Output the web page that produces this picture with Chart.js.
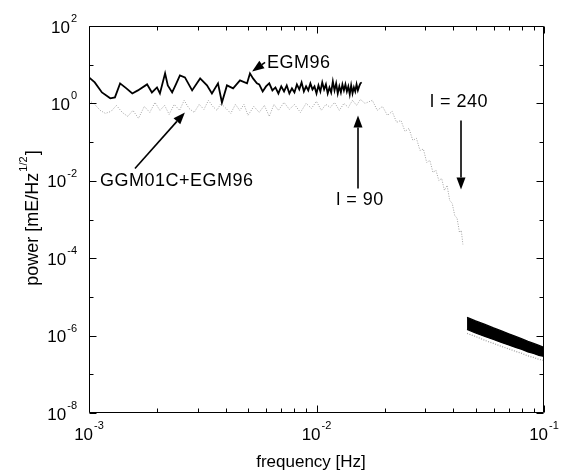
<!DOCTYPE html>
<html><head><meta charset="utf-8">
<script src="https://cdn.jsdelivr.net/npm/chart.js@4/dist/chart.umd.min.js"></script>
<style>html,body{margin:0;padding:0;background:#fff}canvas{display:block}</style>
</head><body>
<canvas id="c" width="561" height="472"></canvas>
<script>
// ---- data ----
const egmFreqLow = [0.00100,0.00106,0.00114,0.00124,0.00130,0.00137,0.00146,0.00155,0.00164,0.00180,0.00189,0.00199,0.00205,0.00216,0.00222,0.00232,0.00241,0.00251,0.00264,0.00284,0.00308,0.00330,0.00347,0.00369,0.00384,0.00404,0.00430,0.00461,0.00495,0.00510,0.00526,0.00547,
 0.0056,0.0058,0.0060,0.0062,0.0064,0.0066,0.0068,0.0070,0.0072,0.0074,0.0076,0.0078,0.0080,0.0082,0.0084,0.0086,0.0088,0.0090,0.0092,0.0094,0.0096,0.0098,0.0100,0.0102,0.0104,0.0106,0.0108,0.0110,0.0112,0.0114,0.0116,0.0118,0.0120,0.0122,0.0124,0.0126,0.0128,0.0130,0.0132,0.0134,0.0136,0.0138,0.0140,0.0142,0.0144,0.0146,0.0148,0.0150,0.0152,0.0154,0.0156,0.0158];
const egmPowerLow = [4.70,3.49,1.92,1.35,1.43,3.29,2.44,1.81,2.17,3.10,1.92,2.59,1.81,5.96,2.92,1.92,3.10,5.29,4.70,2.17,4.43,2.92,1.81,3.29,1.06,2.92,2.44,3.93,3.29,5.96,4.43,3.29,
 3.10,2.04,2.75,3.29,2.17,2.59,1.81,2.75,2.04,2.92,1.81,2.44,1.92,3.10,2.30,3.49,2.04,2.75,2.17,3.29,2.30,2.75,1.81,2.92,2.04,3.49,2.30,3.10,1.81,2.59,1.92,3.70,2.17,3.29,1.81,2.75,1.92,3.10,2.17,3.10,2.04,2.75,1.71,2.92,1.81,2.59,2.04,3.10,2.17,2.75,3.29,3.49];

const ggmFreqLow = [0.00100,0.00106,0.00112,0.00118,0.00125,0.00132,0.00140,0.00148,0.00156,0.00165,0.00175,0.00185,0.00195,0.00205,0.00215,0.00225,0.00237,0.00250,0.00262,0.00275,0.00290,0.00305,0.00320,0.00335,0.00350,0.00365,0.00380,0.00400,0.00420,0.00440,0.00460,0.00480,0.00500,0.00530,0.00560,0.00590,0.00620,0.00650,0.00680,0.00720,0.00760,0.00800,0.00850,0.00900,0.00950,0.01000,0.01050,0.01100,0.01150,0.01200,0.01260,0.01320,0.01380,0.01440,0.01500,0.01560,0.01633,
 0.0176,0.0185,0.0195,0.0205,0.0215,0.0225,0.0235,0.0245,0.0255,0.0265,0.0275,0.0285,0.0295,0.0305,0.0315,0.0325,0.0335,0.0345,0.0355,0.0365,0.0375,0.0385,0.0395,0.0405,0.0415,0.0425,0.0433,0.0440];
const ggmPowerLow = [1.20,0.942,0.660,0.552,0.621,0.888,0.585,0.461,0.660,0.410,0.837,0.585,1.06,0.660,0.888,0.520,0.942,0.660,1.20,0.743,0.585,0.942,0.700,1.20,0.837,0.660,1.00,0.743,0.552,0.942,0.660,0.942,0.490,0.837,0.585,0.888,0.461,0.942,0.660,1.06,0.700,0.942,0.585,1.00,0.743,1.13,0.660,0.942,0.788,1.06,0.660,1.00,0.788,1.20,0.888,1.27,1.00,
 1.20,0.660,0.837,0.490,0.621,0.323,0.364,0.189,0.226,0.111,0.125,0.0610,0.0660,0.0299,0.0337,0.0165,0.0186,0.0102,0.0115,0.00565,0.00760,0.00312,0.00261,0.00128,0.00107,0.000464,0.000523,0.000227];

const bandFreq = [0.0459,0.050,0.055,0.060,0.065,0.070,0.075,0.080,0.085,0.090,0.095,0.100];
const egmBandUpper = [2.95e-6,2.40e-6,1.95e-6,1.58e-6,1.32e-6,1.11e-6,9.53e-7,8.22e-7,7.08e-7,6.28e-7,5.58e-7,4.95e-7];
const egmBandLower = [1.45e-6,1.17e-6,9.53e-7,7.98e-7,6.68e-7,5.75e-7,4.95e-7,4.40e-7,3.79e-7,3.47e-7,3.08e-7,2.90e-7];
const ggmBandPower = [1.14e-6,9.53e-7,7.52e-7,6.28e-7,5.26e-7,4.53e-7,3.91e-7,3.47e-7,2.99e-7,2.73e-7,2.43e-7,2.29e-7];

const xTickExponents = [-3,-2,-1];
const yTickExponents = [2,0,-2,-4,-6,-8];
const xTitle = 'frequency [Hz]';
const yTitleMain = 'power [mE/Hz';
const yTitleSup = '1/2';
const yTitleEnd = ']';

// annotations: text anchor and arrow (tail -> head) in data coordinates
const notes = [
  {text:'EGM96', tx:0.00606, ty:10.8, align:'left', tail:[0.00594,11.5], head:[0.00521,6.71]},
  {text:'GGM01C+EGM96', tx:0.001118, ty:0.00965, align:'left', tail:[0.001592,0.0209], head:[0.00264,0.585]},
  {text:'l = 90', tx:0.01553, ty:0.00312, align:'center', tail:[0.01522,0.00637], head:[0.01522,0.490]},
  {text:'l = 240', tx:0.04230, ty:1.06, align:'center', tail:[0.04317,0.364], head:[0.04317,0.0060]}
];

const pts = (xs, ys) => xs.map((x,i)=>({x, y:ys[i]}));
const FONT = '"Liberation Sans", Arial, Helvetica, sans-serif';

const axesPlugin = {
  id:'matlabAxes',
  afterDraw(chart){
    const {ctx, chartArea:a, scales:{x, y}} = chart;
    ctx.save();
    ctx.strokeStyle = '#000'; ctx.fillStyle = '#000'; ctx.lineWidth = 1;
    const L = Math.round(a.left)+0.5, R = Math.round(a.right)-0.5, T = Math.round(a.top)+0.5, B = Math.round(a.bottom)-0.5;
    ctx.beginPath(); ctx.rect(L, T, R-L, B-T); ctx.stroke();
    ctx.beginPath();
    for (let e=-3; e<=-1; e++){
      for (let m=1; m<=9; m++){
        const v = m*Math.pow(10,e); if (v>0.1000001) break;
        const px = Math.round(x.getPixelForValue(v))+0.5;
        const len = m===1 ? 7 : 4;
        ctx.moveTo(px, B); ctx.lineTo(px, B-len);
        ctx.moveTo(px, T); ctx.lineTo(px, T+len);
      }
    }
    for (let e=-8; e<=2; e++){
      const py = Math.round(y.getPixelForValue(Math.pow(10,e)))+0.5;
      const len = (e%2===0) ? 7 : 4;
      ctx.moveTo(L, py); ctx.lineTo(L+len, py);
      ctx.moveTo(R, py); ctx.lineTo(R-len, py);
    }
    ctx.stroke();
    const baseFont = '17px '+FONT, supFont = '11px '+FONT;
    const drawPow = (e, cx, cy, mode) => {
      ctx.font = baseFont; const wb = ctx.measureText('10').width;
      ctx.font = supFont; const es = String(e); const ws = ctx.measureText(es).width;
      const w = wb + ws + 1;
      let x0 = mode==='center' ? cx - w/2 : cx - w;
      ctx.textBaseline = 'middle'; ctx.textAlign = 'left';
      ctx.font = baseFont; ctx.fillText('10', x0, cy);
      ctx.font = supFont; ctx.fillText(es, x0+wb+1, cy-9);
    };
    xTickExponents.forEach(e => drawPow(e, x.getPixelForValue(Math.pow(10,e)), a.bottom+22, 'center'));
    yTickExponents.forEach(e => drawPow(e, a.left-12, y.getPixelForValue(Math.pow(10,e))+2, 'right'));
    ctx.font = '17px '+FONT; ctx.textAlign='center'; ctx.textBaseline='middle';
    ctx.fillText(xTitle, 311, 462);
    ctx.save();
    ctx.translate(33, 218); ctx.rotate(-Math.PI/2);
    ctx.font = '18px '+FONT; const w1 = ctx.measureText(yTitleMain).width;
    ctx.font = '11px '+FONT; const w2 = ctx.measureText(yTitleSup).width;
    ctx.font = '18px '+FONT; const w3 = ctx.measureText(yTitleEnd).width;
    const tw = w1+w2+w3+2; let sx = -tw/2;
    ctx.textAlign='left'; ctx.textBaseline='middle';
    ctx.font = '18px '+FONT; ctx.fillText(yTitleMain, sx, 0);
    ctx.font = '11px '+FONT; ctx.fillText(yTitleSup, sx+w1+1, -9);
    ctx.font = '18px '+FONT; ctx.fillText(yTitleEnd, sx+w1+w2+2, 0);
    ctx.restore();
    notes.forEach(n => {
      const tx = x.getPixelForValue(n.tx), ty = y.getPixelForValue(n.ty);
      ctx.font = '18px '+FONT; ctx.textAlign = n.align; ctx.textBaseline='middle';
      if ('letterSpacing' in ctx) ctx.letterSpacing = '0.5px';
      ctx.fillText(n.text, tx, ty);
      if ('letterSpacing' in ctx) ctx.letterSpacing = '0px';
      const x1 = x.getPixelForValue(n.tail[0]), y1 = y.getPixelForValue(n.tail[1]);
      const x2 = x.getPixelForValue(n.head[0]), y2 = y.getPixelForValue(n.head[1]);
      const ang = Math.atan2(y2-y1, x2-x1), hl = 12, hw = 4.5;
      const bx = x2 - hl*Math.cos(ang), by = y2 - hl*Math.sin(ang);
      ctx.lineWidth = 1.6;
      ctx.beginPath(); ctx.moveTo(x1,y1); ctx.lineTo(bx,by); ctx.stroke();
      ctx.beginPath(); ctx.moveTo(x2,y2);
      ctx.lineTo(bx + hw*Math.sin(ang), by - hw*Math.cos(ang));
      ctx.lineTo(bx - hw*Math.sin(ang), by + hw*Math.cos(ang));
      ctx.closePath(); ctx.fill();
    });
    ctx.restore();
  }
};

new Chart(document.getElementById('c'), {
  type:'line',
  data:{ datasets:[
    {label:'EGM96', data:pts(egmFreqLow, egmPowerLow), borderColor:'#000', borderWidth:1.8, pointRadius:0, tension:0, order:0},
    {label:'EGM96 band upper', data:pts(bandFreq, egmBandUpper), borderColor:'#000', borderWidth:1.2, backgroundColor:'#000', fill:'+1', pointRadius:0, tension:0, order:0},
    {label:'EGM96 band lower', data:pts(bandFreq, egmBandLower), borderColor:'#000', borderWidth:1.2, pointRadius:0, tension:0, order:0},
    {label:'GGM01C+EGM96', data:pts(ggmFreqLow, ggmPowerLow), borderColor:'#a0a0a0', borderWidth:1, borderDash:[1,1.5], pointRadius:0, tension:0, order:2},
    {label:'GGM01C+EGM96 band', data:pts(bandFreq, ggmBandPower), borderColor:'#a0a0a0', borderWidth:1.2, borderDash:[1,1.5], pointRadius:0, tension:0, order:2}
  ]},
  options:{
    responsive:false, animation:false, devicePixelRatio:1,
    layout:{padding:{left:89, right:17, top:26, bottom:59}},
    plugins:{legend:{display:false}, tooltip:{enabled:false}},
    scales:{
      x:{type:'logarithmic', min:0.001, max:0.1, display:false},
      y:{type:'logarithmic', min:1e-8, max:100, display:false}
    }
  },
  plugins:[axesPlugin]
});
</script>
</body></html>
